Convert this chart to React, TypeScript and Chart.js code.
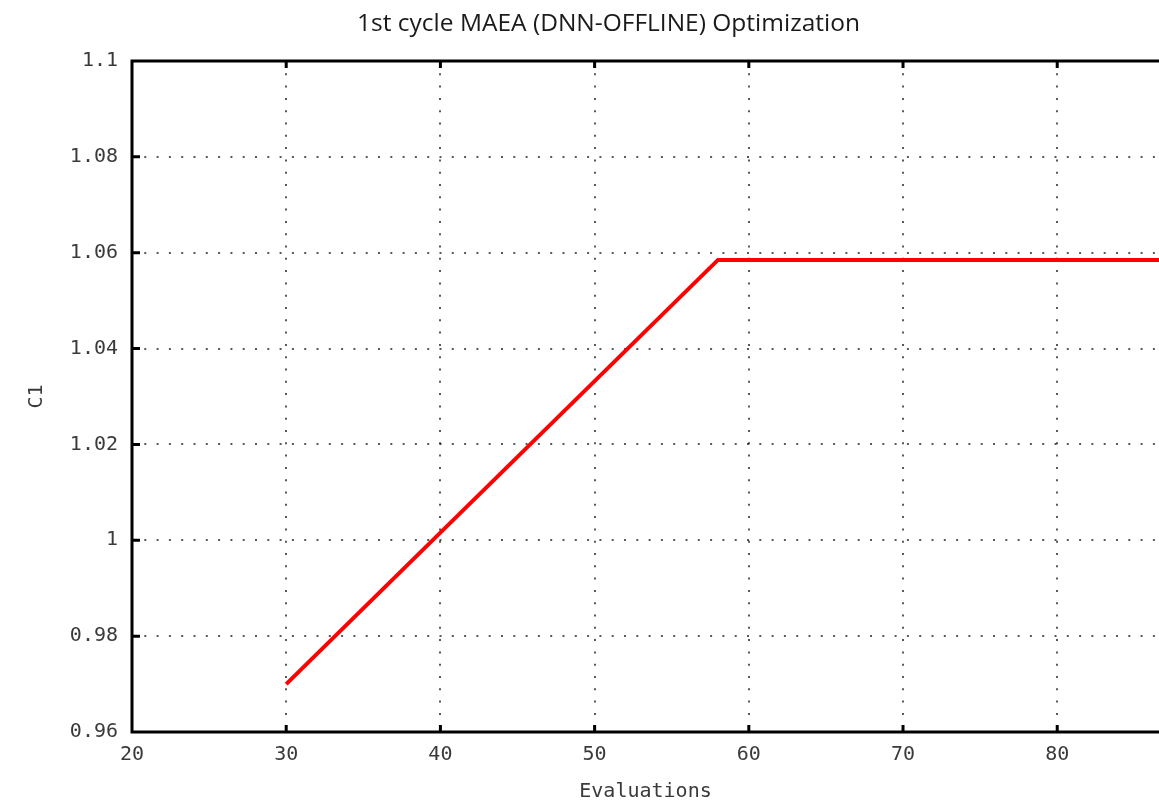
import React, { useEffect, useRef } from "react";
import { Chart, registerables } from "chart.js";

Chart.register(...registerables);

const TITLE = "1st cycle MAEA (DNN-OFFLINE) Optimization";
const X_LABEL = "Evaluations";
const Y_LABEL = "C1";
const evaluations = [30, 58, 87];
const c1Values = [0.97, 1.0585, 1.0585];
const X_MIN = 20;
const X_MAX = 86.6;
const X_STEP = 10;
const Y_MIN = 0.96;
const Y_MAX = 1.1;
const Y_STEP = 0.02;

const MONO = "'DejaVu Sans Mono', monospace";

const framePlugin = {
  id: "gnuFrame",
  beforeDraw(chart: any) {
    const { ctx } = chart;
    ctx.save();
    ctx.fillStyle = "#ffffff";
    ctx.fillRect(0, 0, chart.width, chart.height);
    ctx.fillStyle = "#1a1a1a";
    ctx.font = "24.5px 'Open Sans', sans-serif";
    ctx.textAlign = "center";
    ctx.textBaseline = "middle";
    ctx.fillText(TITLE, 608.5, 24);
    ctx.restore();
  },
  afterDraw(chart: any) {
    const { ctx, chartArea } = chart;
    const { left, right, top, bottom } = chartArea;
    const xs = chart.scales.x;
    const ys = chart.scales.y;
    ctx.save();
    ctx.strokeStyle = "#000000";
    ctx.lineWidth = 3;
    ctx.beginPath();
    ctx.moveTo(right + 2, top);
    ctx.lineTo(left, top);
    ctx.lineTo(left, bottom);
    ctx.lineTo(right + 2, bottom);
    ctx.stroke();
    ctx.beginPath();
    xs.ticks.forEach((t: any) => {
      const px = xs.getPixelForValue(t.value);
      if (px <= left + 1 || px >= right - 1) return;
      ctx.moveTo(px, bottom);
      ctx.lineTo(px, bottom - 7);
      ctx.moveTo(px, top);
      ctx.lineTo(px, top + 7);
    });
    ys.ticks.forEach((t: any) => {
      const py = ys.getPixelForValue(t.value);
      if (py <= top + 1 || py >= bottom - 1) return;
      ctx.moveTo(left, py);
      ctx.lineTo(left + 8, py);
    });
    ctx.stroke();
    ctx.restore();
  },
};

export default function App() {
  const ref = useRef<HTMLCanvasElement | null>(null);
  useEffect(() => {
    if (!ref.current) return;
    const chart = new Chart(ref.current, {
      type: "line",
      data: {
        datasets: [
          {
            label: Y_LABEL,
            data: evaluations.map((x, i) => ({ x, y: c1Values[i] })),
            borderColor: "#ff0000",
            borderWidth: 4,
            pointRadius: 0,
            tension: 0,
            fill: false,
          },
        ],
      },
      options: {
        animation: false,
        responsive: false,
        layout: { padding: { top: 61, left: 0, right: 0, bottom: 0 } },
        plugins: {
          legend: { display: false },
          title: { display: false },
          tooltip: { enabled: false },
        },
        scales: {
          x: {
            type: "linear",
            min: X_MIN,
            max: X_MAX,
            afterFit: (s: any) => {
              s.height = 68;
            },
            ticks: {
              stepSize: X_STEP,
              includeBounds: false,
              color: "#3a3a3a",
              padding: 11,
              maxRotation: 0,
              font: { family: MONO, size: 20 },
            },
            grid: {
              color: "rgba(0,0,0,0.65)",
              lineWidth: 2,
              drawTicks: false,
            },
            border: { display: false, dash: [2, 10.3] },
            title: {
              display: true,
              text: X_LABEL,
              color: "#3a3a3a",
              font: { family: MONO, size: 20, lineHeight: 1 },
              padding: { top: 0, bottom: -2 },
            },
          },
          y: {
            type: "linear",
            min: Y_MIN,
            max: Y_MAX,
            afterFit: (s: any) => {
              s.width = 132;
            },
            ticks: {
              stepSize: Y_STEP,
              color: "#3a3a3a",
              padding: 14,
              font: { family: MONO, size: 20 },
              callback: (v: any) => String(+Number(v).toFixed(2)),
            },
            grid: {
              color: "rgba(0,0,0,0.65)",
              lineWidth: 2,
              drawTicks: false,
            },
            border: { display: false, dash: [2, 10.3] },
            title: {
              display: true,
              text: Y_LABEL,
              color: "#3a3a3a",
              font: { family: MONO, size: 20, lineHeight: 1 },
              padding: { top: 27, bottom: 0 },
            },
          },
        },
      },
      plugins: [framePlugin],
    } as any);
    return () => chart.destroy();
  }, []);
  return (
    <div style={{ position: "fixed", left: 0, top: 0, width: 1159, height: 800, background: "#fff" }}>
      <canvas ref={ref} width={1159} height={800} style={{ display: "block" }} />
    </div>
  );
}
